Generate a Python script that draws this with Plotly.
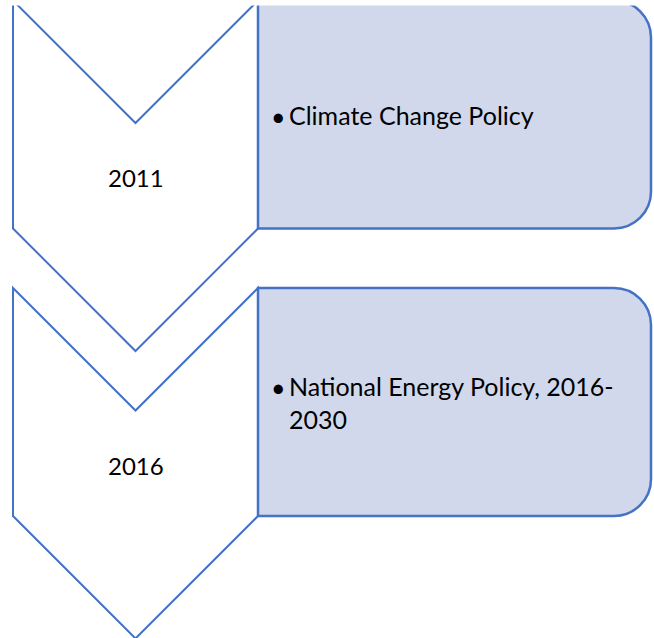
import plotly.graph_objects as go

# ---- content ----
years = ["2011", "2016"]
policies = [["Climate Change Policy"], ["National Energy Policy, 2016-", "2030"]]

# ---- geometry (pixel-like units, y grows downward) ----
W, H = 654, 638
stage_top = [0.5, 288]
stage_h = 228
chev_x0, chev_x1 = 13, 258
box_x0, box_x1 = 258, 651
radius = 37
BLUE = "#4472C4"
FILL = "#D2D8EB"
FONT = "Lato"
FS = 25
FS_YEAR = 24

fig = go.Figure()
fig.add_trace(go.Scatter(x=[0, W], y=[0, H], mode="markers",
                         marker=dict(opacity=0), hoverinfo="skip", showlegend=False))

shapes = []
annotations = []
half = (chev_x1 - chev_x0) / 2
cx = (chev_x0 + chev_x1) / 2
for i, (yr, pol) in enumerate(zip(years, policies)):
    t = stage_top[i]
    b = t + stage_h
    # chevron (pointing down)
    p = (f"M{chev_x0},{t} L{cx},{t + half} L{chev_x1},{t} L{chev_x1},{b} "
         f"L{cx},{b + half} L{chev_x0},{b} Z")
    shapes.append(dict(type="path", path=p, xref="x", yref="y",
                       fillcolor="white", line=dict(color=BLUE, width=2), layer="above"))
    # rounded box (right corners rounded)
    r = radius
    k = 0.5523 * r
    bp = (f"M{box_x0},{t} L{box_x1 - r},{t} "
          f"C{box_x1 - r + k},{t} {box_x1},{t + r - k} {box_x1},{t + r} "
          f"L{box_x1},{b - r} "
          f"C{box_x1},{b - r + k} {box_x1 - r + k},{b} {box_x1 - r},{b} "
          f"L{box_x0},{b} Z")
    shapes.append(dict(type="path", path=bp, xref="x", yref="y",
                       fillcolor=FILL, line=dict(color=BLUE, width=2.5), layer="above"))
    # year label
    annotations.append(dict(x=cx, y=t + 177, text=yr, showarrow=False,
                            xref="x", yref="y", xanchor="center", yanchor="middle",
                            font=dict(family=FONT, size=FS_YEAR, color="black")))
    # bullet + text
    ty = t + 115 if len(pol) == 1 else t + 99
    annotations.append(dict(x=287, y=ty, text="•", showarrow=False,
                            xref="x", yref="y", xanchor="right", yanchor="middle",
                            borderpad=0,
                            font=dict(family=FONT, size=FS, color="black")))
    annotations.append(dict(x=288, y=ty - 17, text="<br>".join(pol), showarrow=False,
                            xref="x", yref="y", xanchor="left", yanchor="top", align="left",
                            borderpad=0,
                            font=dict(family=FONT, size=FS, color="black")))

# white band across the very top (cropped edge of the original)
shapes.append(dict(type="rect", x0=-5, x1=W + 5, y0=-5, y1=5.5, xref="x", yref="y",
                   fillcolor="white", line=dict(width=0), layer="above"))

fig.update_layout(
    width=W, height=H,
    margin=dict(l=0, r=0, t=0, b=0),
    paper_bgcolor="white", plot_bgcolor="white",
    shapes=shapes, annotations=annotations,
    xaxis=dict(range=[0, W], visible=False, fixedrange=True),
    yaxis=dict(range=[H, 0], visible=False, fixedrange=True),
    showlegend=False,
)
fig.write_html("out.html", config={"displayModeBar": False},
               post_script="document.body.style.margin='0px';document.body.style.overflow='hidden';")
